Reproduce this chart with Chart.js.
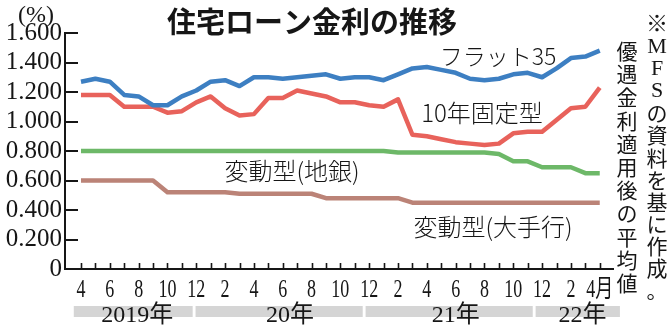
<!DOCTYPE html>
<html>
<head>
<meta charset="utf-8">
<script src="https://cdn.jsdelivr.net/npm/chart.js@4/dist/chart.umd.min.js"></script>
<style>
  html, body { margin: 0; padding: 0; background: #fff; }
  #wrap { width: 670px; height: 326px; position: relative; }
</style>
</head>
<body>
<div id="wrap"><canvas id="c" width="670" height="326"></canvas></div>
<script>
// Months covered (April 2019 – April 2022)
const categories = [
  '2019-04','2019-05','2019-06','2019-07','2019-08','2019-09','2019-10','2019-11','2019-12',
  '2020-01','2020-02','2020-03','2020-04','2020-05','2020-06','2020-07','2020-08','2020-09',
  '2020-10','2020-11','2020-12','2021-01','2021-02','2021-03','2021-04','2021-05','2021-06',
  '2021-07','2021-08','2021-09','2021-10','2021-11','2021-12','2022-01','2022-02','2022-03',
  '2022-04'
];
// Month labels shown under every other month
const monthTickLabels = ['4','6','8','10','12','2','4','6','8','10','12','2','4','6','8','10','12','2','4月'];
const yearLabels = ['2019年', '20年', '21年', '22年'];
const yTickValues = [0, 0.2, 0.4, 0.6, 0.8, 1.0, 1.2, 1.4, 1.6];

// Average rates after preferential discount (%)
const flat35 = [1.27,1.29,1.27,1.18,1.17,1.11,1.11,1.17,1.21,1.27,1.28,1.24,1.30,1.30,1.29,1.30,1.31,1.32,1.29,1.30,1.30,1.28,1.32,1.36,1.37,1.35,1.33,1.29,1.28,1.29,1.32,1.33,1.30,1.36,1.43,1.44,1.48];
const fixed10 = [1.18,1.18,1.18,1.10,1.10,1.10,1.06,1.07,1.13,1.17,1.09,1.04,1.05,1.16,1.16,1.21,1.19,1.17,1.13,1.13,1.11,1.10,1.15,0.91,0.90,0.88,0.86,0.85,0.84,0.85,0.92,0.93,0.93,1.01,1.09,1.10,1.23];
const variableRegional = [0.80,0.80,0.80,0.80,0.80,0.80,0.80,0.80,0.80,0.80,0.80,0.80,0.80,0.80,0.80,0.80,0.80,0.80,0.80,0.80,0.80,0.80,0.79,0.79,0.79,0.79,0.79,0.79,0.79,0.78,0.73,0.73,0.69,0.69,0.69,0.65,0.65];
const variableMajor = [0.60,0.60,0.60,0.60,0.60,0.60,0.52,0.52,0.52,0.52,0.52,0.51,0.51,0.51,0.51,0.51,0.51,0.48,0.48,0.48,0.48,0.48,0.48,0.45,0.45,0.45,0.45,0.45,0.45,0.45,0.45,0.45,0.45,0.45,0.45,0.45,0.45];

const seriesNames = ['フラット35', '10年固定型', '変動型(地銀)', '変動型(大手行)'];
const seriesColors = ['#3d7fc2', '#e8625b', '#6db868', '#bb8377'];

const toPoints = arr => arr.map((v, i) => ({ x: i, y: v }));

const SERIF = "'Liberation Serif', 'Noto Sans CJK JP', serif";
const GOTHIC = "'Noto Sans CJK JP', 'Noto Sans', sans-serif";
const INK = '#161616';

// Axis ticks, month/year labels, title, series names and source note
const decor = {
  id: 'decor',
  beforeDraw(chart) {
    const { ctx } = chart;
    ctx.save();
    ctx.fillStyle = '#fff';
    ctx.fillRect(0, 0, chart.width, chart.height);
    ctx.restore();
  },
  afterDraw(chart) {
    const { ctx, chartArea: a, scales: { x, y } } = chart;
    const step = x.getPixelForValue(1) - x.getPixelForValue(0);
    const px = i => x.getPixelForValue(0) + i * step;
    ctx.save();
    ctx.strokeStyle = INK;

    // y ticks pointing into the plot
    ctx.lineWidth = 2;
    yTickValues.forEach(v => {
      if (v === 0) return;
      const yy = Math.round(y.getPixelForValue(v));
      ctx.beginPath();
      ctx.moveTo(a.left, yy);
      ctx.lineTo(a.left + 13, yy);
      ctx.stroke();
    });

    // x ticks, one per month
    ctx.lineWidth = 1.6;
    categories.forEach((c, i) => {
      const xx = Math.round(px(i)) + 0.5;
      ctx.beginPath();
      ctx.moveTo(xx, a.bottom);
      ctx.lineTo(xx, a.bottom - 6);
      ctx.stroke();
    });

    // month labels (condensed serif)
    ctx.fillStyle = INK;
    ctx.font = `25px ${SERIF}`;
    ctx.textAlign = 'center';
    ctx.textBaseline = 'alphabetic';
    monthTickLabels.forEach((t, k) => {
      ctx.save();
      ctx.translate(px(k * 2), 297);
      ctx.scale(0.72, 1);
      ctx.fillText(t, 0, 0);
      ctx.restore();
    });

    // year bands
    const bands = [[-0.5, 7.75], [7.95, 19.55], [19.75, 31.35], [31.55, 37.4]];
    const yearCenters = [3.9, 14.5, 26.0, 34.8];
    ctx.fillStyle = '#d5d5d5';
    bands.forEach(([s, e]) => {
      ctx.fillRect(px(s), 306, px(e) - px(s), 11);
    });
    ctx.fillStyle = INK;
    ctx.font = `24px ${SERIF}`;
    yearLabels.forEach((t, k) => {
      ctx.fillText(t, px(yearCenters[k]), 321.5);
    });

    // unit
    ctx.font = `24px ${SERIF}`;
    ctx.textBaseline = 'middle';
    ctx.fillText('(%)', 36, 16);

    // title
    ctx.font = `bold 29px ${GOTHIC}`;
    ctx.fillText('住宅ローン金利の推移', 312, 22);

    // series names
    const namePos = [[498, 56, 23], [482, 113, 24], [292, 171, 24], [493, 227, 24]];
    seriesNames.forEach((n, k) => {
      const [cx, cy, fs] = namePos[k];
      ctx.font = `300 ${fs}px ${GOTHIC}`;
      ctx.fillText(n, cx, cy);
    });

    // vertical source note
    const colR = ['※', 'M', 'F', 'S', 'の', '資', '料', 'を', '基', 'に', '作', '成', '。'];
    const colL = ['優', '遇', '金', '利', '適', '用', '後', 'の', '平', '均', '値'];
    colR.forEach((ch, k) => {
      const latin = /[A-Z※]/.test(ch);
      ctx.font = latin ? `22px ${SERIF}` : `21px ${GOTHIC}`;
      ctx.fillText(ch, 657, 25 + k * 22.1);
    });
    colL.forEach((ch, k) => {
      ctx.font = `21px ${GOTHIC}`;
      ctx.fillText(ch, 627, 51 + k * 23.2);
    });
    ctx.restore();
  }
};

new Chart(document.getElementById('c'), {
  type: 'line',
  data: {
    datasets: [flat35, fixed10, variableRegional, variableMajor].map((arr, k) => ({
      label: seriesNames[k],
      data: toPoints(arr),
      borderColor: seriesColors[k],
      borderWidth: 4.5,
      pointRadius: 0,
      tension: 0,
      fill: false,
      borderCapStyle: 'butt',
      borderJoinStyle: 'round'
    }))
  },
  options: {
    responsive: false,
    animation: false,
    devicePixelRatio: 1,
    layout: { padding: { top: 33, right: 57, bottom: 0, left: 0 } },
    plugins: { legend: { display: false }, tooltip: { enabled: false }, title: { display: false } },
    scales: {
      x: {
        type: 'linear',
        min: -1.11,
        max: 36.92,
        grid: { display: false, drawTicks: false },
        border: { display: true, color: INK, width: 2 },
        ticks: { display: false },
        afterFit(s) { s.height = 57; }
      },
      y: {
        min: 0,
        max: 1.6,
        grid: { display: false, drawTicks: false },
        border: { display: true, color: INK, width: 2 },
        ticks: {
          stepSize: 0.2,
          autoSkip: false,
          padding: 3,
          color: INK,
          font: { family: SERIF, size: 25, lineHeight: 1 },
          callback: v => (v === 0 ? '0' : Number(v).toFixed(3))
        },
        afterFit(s) { s.width = 65; }
      }
    }
  },
  plugins: [decor]
});
</script>
</body>
</html>
